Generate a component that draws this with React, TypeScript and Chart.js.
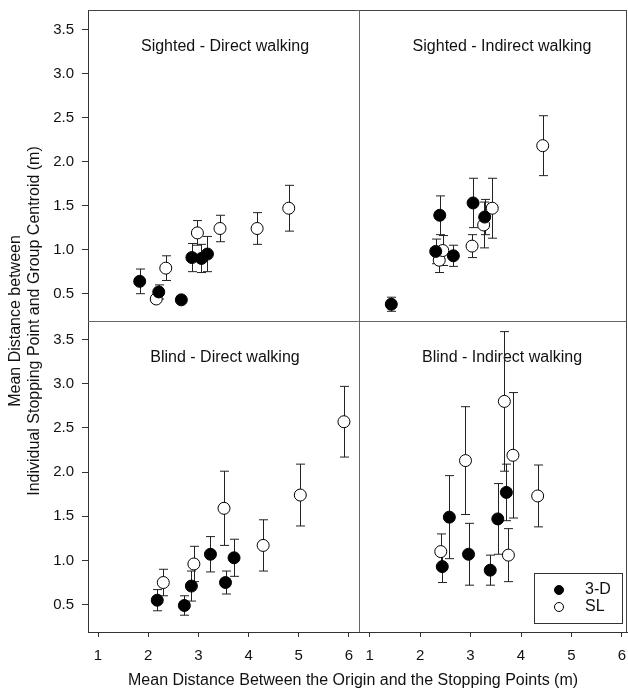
import React, { useEffect, useRef } from "react";
import { Chart, registerables } from "chart.js";

Chart.register(...registerables);

// ---------- data ----------
const SERIES_LABELS = ["3-D", "SL"];
const PANEL_TITLES = [
  "Sighted - Direct walking",
  "Sighted - Indirect walking",
  "Blind - Direct walking",
  "Blind - Indirect walking",
];
const X_TITLE = "Mean Distance Between the Origin and the Stopping Points (m)";
const Y_TITLE = ["Mean Distance between", "Individual Stopping Point and Group Centroid (m)"];

// Sighted - Direct walking
const SD_3D_X = [1.83, 2.21, 2.66, 2.87, 3.06, 3.18];
const SD_3D_Y = [0.64, 0.52, 0.43, 0.91, 0.9, 0.95];
const SD_3D_ERR = [0.14, 0.08, 0.04, 0.16, 0.16, 0.2];
const SD_SL_X = [2.16, 2.35, 2.98, 3.43, 4.17, 4.8];
const SD_SL_Y = [0.44, 0.79, 1.19, 1.24, 1.24, 1.47];
const SD_SL_ERR = [0.03, 0.14, 0.14, 0.15, 0.18, 0.26];

// Sighted - Indirect walking
const SI_3D_X = [1.43, 2.31, 2.39, 2.66, 3.05, 3.28];
const SI_3D_Y = [0.38, 0.98, 1.39, 0.93, 1.53, 1.37];
const SI_3D_ERR = [0.08, 0.14, 0.22, 0.12, 0.28, 0.2];
const SI_SL_X = [2.38, 2.45, 3.03, 3.26, 3.43, 4.43];
const SI_SL_Y = [0.88, 0.99, 1.04, 1.28, 1.47, 2.18];
const SI_SL_ERR = [0.14, 0.17, 0.13, 0.26, 0.34, 0.34];

// Blind - Direct walking
const BD_3D_X = [2.18, 2.72, 2.86, 3.24, 3.54, 3.71];
const BD_3D_Y = [0.55, 0.49, 0.71, 1.07, 0.75, 1.03];
const BD_3D_ERR = [0.12, 0.11, 0.17, 0.2, 0.13, 0.21];
const BD_SL_X = [2.3, 2.91, 3.51, 4.29, 5.03, 5.9];
const BD_SL_Y = [0.75, 0.96, 1.59, 1.17, 1.74, 2.57];
const BD_SL_ERR = [0.15, 0.2, 0.42, 0.29, 0.35, 0.4];

// Blind - Indirect walking
const BI_3D_X = [2.44, 2.58, 2.96, 3.39, 3.54, 3.71];
const BI_3D_Y = [0.93, 1.49, 1.07, 0.89, 1.47, 1.77];
const BI_3D_ERR = [0.18, 0.47, 0.35, 0.17, 0.4, 0.32];
const BI_SL_X = [2.41, 2.9, 3.67, 3.75, 3.84, 4.33];
const BI_SL_Y = [1.1, 2.13, 2.8, 1.06, 2.19, 1.73];
const BI_SL_ERR = [0.2, 0.61, 0.79, 0.3, 0.71, 0.35];

// ---------- helpers ----------
const FONT = "'Liberation Sans', Arial, Helvetica, sans-serif";
const INK = "#111";

const pts = (xs: number[], ys: number[]) => xs.map((x, i) => ({ x, y: ys[i] }));

function series(
  label: string,
  xs: number[],
  ys: number[],
  errs: number[],
  filled: boolean,
  xAxisID: string,
  yAxisID: string
): any {
  return {
    label,
    data: pts(xs, ys),
    errors: errs,
    xAxisID,
    yAxisID,
    pointRadius: 6,
    pointHoverRadius: 6,
    pointStyle: "circle",
    backgroundColor: filled ? "#000" : "#fff",
    borderColor: "#000",
    borderWidth: 1,
    showLine: false,
    clip: false,
  };
}

const errorBarPlugin = {
  id: "errorBars",
  beforeDatasetsDraw(chart: any) {
    const ctx = chart.ctx;
    ctx.save();
    ctx.strokeStyle = "#222";
    ctx.lineWidth = 1;
    chart.data.datasets.forEach((ds: any) => {
      const xs = chart.scales[ds.xAxisID];
      const ys = chart.scales[ds.yAxisID];
      ds.data.forEach((p: any, j: number) => {
        const e = ds.errors[j];
        const px = Math.round(xs.getPixelForValue(p.x)) + 0.5;
        const t = ys.getPixelForValue(p.y + e);
        const b = ys.getPixelForValue(p.y - e);
        const cap = 4.5;
        ctx.beginPath();
        ctx.moveTo(px, t);
        ctx.lineTo(px, b);
        ctx.moveTo(px - cap, t);
        ctx.lineTo(px + cap, t);
        ctx.moveTo(px - cap, b);
        ctx.lineTo(px + cap, b);
        ctx.stroke();
      });
    });
    ctx.restore();
  },
};

const framePlugin = {
  id: "frame",
  beforeDatasetsDraw(chart: any) {
    const { ctx, chartArea } = chart;
    const { left, right, top, bottom } = chartArea;
    const xMid = chart.scales.xL.right;
    const yMid = chart.scales.yT.bottom;
    ctx.save();
    ctx.lineWidth = 1;
    ctx.strokeStyle = "#444";
    ctx.beginPath();
    ctx.moveTo(left, top + 0.5);
    ctx.lineTo(right, top + 0.5);
    ctx.moveTo(right - 0.5, top);
    ctx.lineTo(right - 0.5, bottom);
    ctx.stroke();
    ctx.strokeStyle = "#666";
    ctx.beginPath();
    ctx.moveTo(Math.round(xMid) + 0.5, top);
    ctx.lineTo(Math.round(xMid) + 0.5, bottom);
    ctx.moveTo(left, Math.round(yMid) + 0.5);
    ctx.lineTo(right, Math.round(yMid) + 0.5);
    ctx.stroke();

    // panel titles
    ctx.fillStyle = INK;
    ctx.font = `16px ${FONT}`;
    ctx.textAlign = "center";
    ctx.textBaseline = "middle";
    const panels = [
      ["xL", "yT"],
      ["xR", "yT"],
      ["xL", "yB"],
      ["xR", "yB"],
    ];
    panels.forEach(([xa, ya], i) => {
      const xs = chart.scales[xa];
      const ys = chart.scales[ya];
      const cx = xs.left + (xa === "xL" ? 137 : 143);
      const cy = ys.top + 37;
      ctx.fillText(PANEL_TITLES[i], cx, cy);
    });
    ctx.restore();
  },
};

const legendPlugin = {
  id: "boxLegend",
  afterDraw(chart: any) {
    const { ctx, chartArea } = chart;
    const w = 88;
    const h = 50;
    const x0 = chartArea.right - 5 - w;
    const y0 = chartArea.bottom - 9 - h;
    ctx.save();
    ctx.fillStyle = "#fff";
    ctx.fillRect(x0, y0, w, h);
    ctx.strokeStyle = "#333";
    ctx.lineWidth = 1;
    ctx.strokeRect(Math.round(x0) + 0.5, Math.round(y0) + 0.5, w, h);
    ctx.font = `16px ${FONT}`;
    ctx.textAlign = "left";
    ctx.textBaseline = "middle";
    SERIES_LABELS.forEach((lab, i) => {
      const cy = y0 + 17 + i * 17;
      ctx.beginPath();
      ctx.arc(x0 + 25, cy, 4.5, 0, Math.PI * 2);
      ctx.fillStyle = i === 0 ? "#000" : "#fff";
      ctx.fill();
      ctx.strokeStyle = "#000";
      ctx.stroke();
      ctx.fillStyle = INK;
      ctx.fillText(lab, x0 + 51, cy);
    });
    ctx.restore();
  },
};

const noPad = (s: any) => {
  s.paddingTop = 0;
  s.paddingBottom = 0;
  s.paddingLeft = 0;
  s.paddingRight = 0;
};

const yPanelAxis = (weight: number, min: number, max: number): any => ({
  type: "linear",
  axis: "y",
  position: "left",
  stack: "left",
  stackWeight: 1,
  weight,
  min,
  max,
  ticks: {
    stepSize: 0.5,
    includeBounds: false,
    autoSkip: false,
    callback: (v: any) => Number(v).toFixed(1),
    font: { size: 15, family: FONT },
    color: INK,
    padding: 8,
  },
  grid: { drawOnChartArea: false, tickLength: 6, color: "#333" },
  border: { color: "#333" },
  afterFit: (s: any) => {
    s.width = 44;
    noPad(s);
  },
});

const xPanelAxis = (weight: number, stackWeight: number, min: number, max: number): any => ({
  type: "linear",
  axis: "x",
  position: "bottom",
  stack: "bottom",
  stackWeight,
  weight,
  min,
  max,
  ticks: {
    stepSize: 1,
    includeBounds: false,
    autoSkip: false,
    callback: (v: any) => String(v),
    font: { size: 15, family: FONT },
    color: INK,
    padding: 10,
    maxRotation: 0,
  },
  grid: { drawOnChartArea: false, tickLength: 5, color: "#333" },
  border: { color: "#333" },
  afterFit: (s: any) => {
    s.height = 32;
    noPad(s);
  },
});

export default function App() {
  const ref = useRef<HTMLCanvasElement>(null);

  useEffect(() => {
    Chart.defaults.font.family = FONT;
    const chart = new Chart(ref.current as HTMLCanvasElement, {
      type: "scatter",
      data: {
        datasets: [
          series(SERIES_LABELS[0], SD_3D_X, SD_3D_Y, SD_3D_ERR, true, "xL", "yT"),
          series(SERIES_LABELS[1], SD_SL_X, SD_SL_Y, SD_SL_ERR, false, "xL", "yT"),
          series(SERIES_LABELS[0], SI_3D_X, SI_3D_Y, SI_3D_ERR, true, "xR", "yT"),
          series(SERIES_LABELS[1], SI_SL_X, SI_SL_Y, SI_SL_ERR, false, "xR", "yT"),
          series(SERIES_LABELS[0], BD_3D_X, BD_3D_Y, BD_3D_ERR, true, "xL", "yB"),
          series(SERIES_LABELS[1], BD_SL_X, BD_SL_Y, BD_SL_ERR, false, "xL", "yB"),
          series(SERIES_LABELS[0], BI_3D_X, BI_3D_Y, BI_3D_ERR, true, "xR", "yB"),
          series(SERIES_LABELS[1], BI_SL_X, BI_SL_Y, BI_SL_ERR, false, "xR", "yB"),
        ],
      },
      options: {
        responsive: false,
        animation: false,
        events: [],
        layout: { autoPadding: false, padding: { top: 10, right: 1, left: 0, bottom: 0 } },
        plugins: {
          legend: { display: false },
          tooltip: { enabled: false },
          title: { display: false },
        },
        scales: {
          yTitle: {
            type: "linear",
            axis: "y",
            position: "left",
            weight: 2,
            ticks: { display: false },
            grid: { display: false },
            border: { display: false },
            title: {
              display: true,
              text: Y_TITLE,
              font: { size: 16, family: FONT },
              color: INK,
              padding: { top: 6, bottom: 0 },
            },
            afterFit: (s: any) => {
              s.width = 44;
              noPad(s);
            },
          } as any,
          yT: yPanelAxis(1, 0.19, 3.72),
          yB: yPanelAxis(0, 0.19, 3.71),
          xL: xPanelAxis(0, 271, 0.8, 6.2),
          xR: xPanelAxis(1, 268, 0.79, 6.1),
          xTitle: {
            type: "linear",
            axis: "x",
            position: "bottom",
            weight: 2,
            ticks: { display: false },
            grid: { display: false },
            border: { display: false },
            title: {
              display: true,
              text: X_TITLE + "  ",
              font: { size: 16, family: FONT },
              color: INK,
              padding: { top: 0, bottom: 2 },
            },
            afterFit: (s: any) => {
              s.height = 28;
              noPad(s);
            },
          } as any,
        },
      },
      plugins: [framePlugin, errorBarPlugin, legendPlugin],
    } as any);
    return () => chart.destroy();
  }, []);

  return (
    <div style={{ position: "absolute", left: 0, top: 0, width: 628, height: 692, background: "#fff" }}>
      <canvas ref={ref} width={628} height={692} style={{ display: "block" }} />
    </div>
  );
}
